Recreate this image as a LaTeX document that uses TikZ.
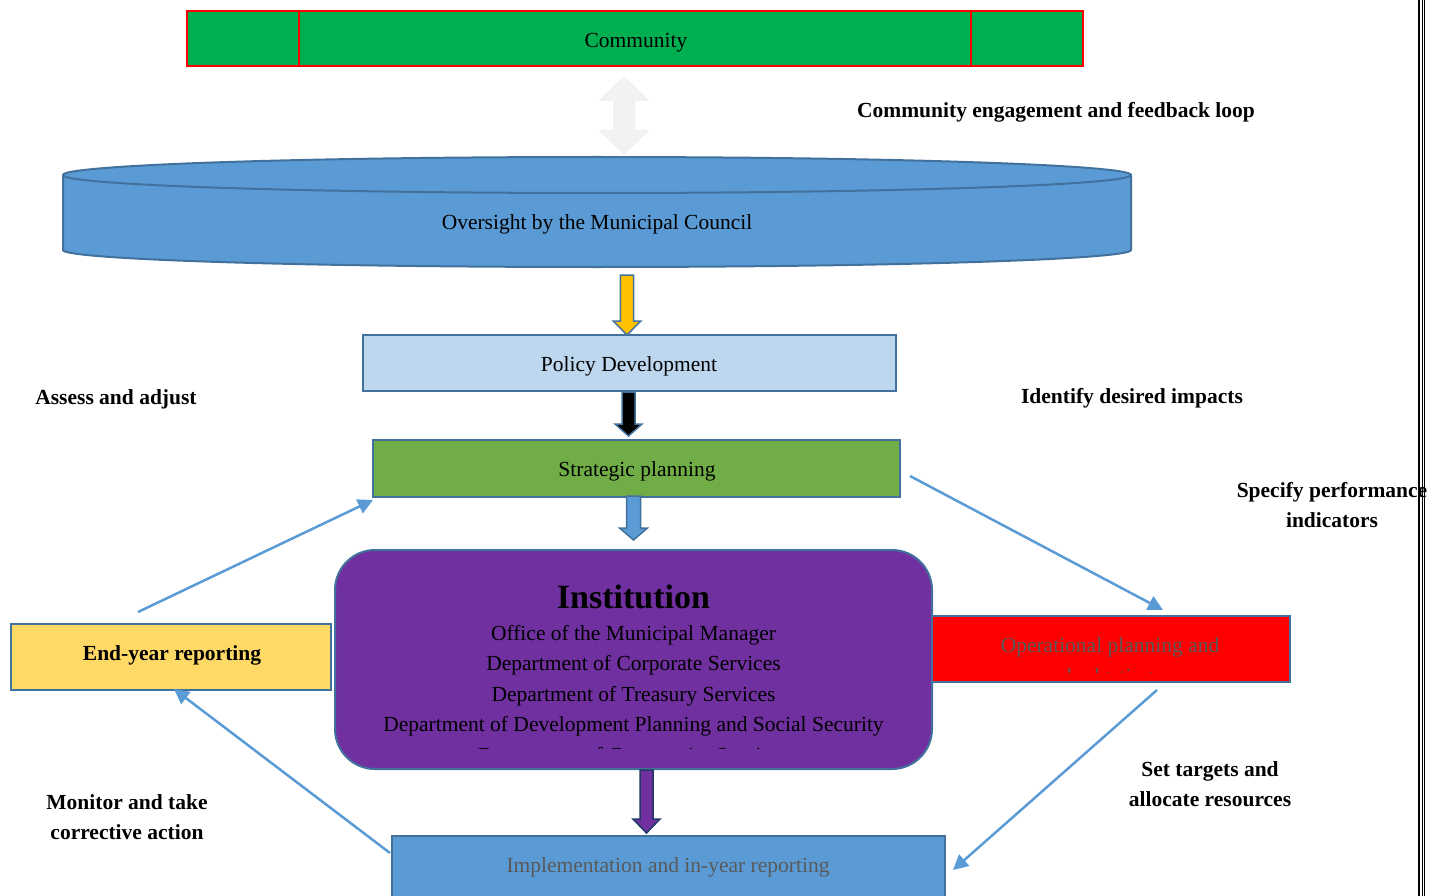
\documentclass[tikz,border=0pt]{standalone}
\usepackage{fontspec}
\setmainfont{Liberation Serif}
\usetikzlibrary{calc,arrows.meta}

\definecolor{commgreen}{HTML}{00B050}
\definecolor{bordblue}{HTML}{41719C}
\definecolor{midblue}{HTML}{5B9BD5}
\definecolor{paleblue}{HTML}{BDD7EE}
\definecolor{leafgreen}{HTML}{70AD47}
\definecolor{instpurple}{HTML}{7030A0}
\definecolor{sunyellow}{HTML}{FFD966}
\definecolor{amber}{HTML}{FFC000}
\definecolor{mist}{HTML}{F2F2F2}
\definecolor{navy}{HTML}{203864}
\definecolor{dimtext}{HTML}{595959}

% vertical block arrow pointing down:
% #1 style, #2 centre x, #3 top y, #4 tip y, #5 shaft half width, #6 head half width, #7 head length
\newcommand{\downblock}[7]{%
  \draw[#1] (#2-#5,#3) -- (#2+#5,#3) -- (#2+#5,#4-#7) -- (#2+#6,#4-#7) -- (#2,#4)
    -- (#2-#6,#4-#7) -- (#2-#5,#4-#7) -- cycle;}

\tikzset{
  box/.style={draw=bordblue, line width=2pt, inner sep=0pt},
  txt/.style={font=\fontsize{21.5}{30}\selectfont, inner sep=0pt},
  lbl/.style={font=\fontsize{21.5}{30}\selectfont\bfseries, align=center, inner sep=0pt},
  flowline/.style={draw=midblue, line width=2.5pt, -{Triangle[length=15pt,width=15pt]}},
  blockarr/.style={line width=1.5pt, line join=miter},
}

\begin{document}
\begin{tikzpicture}[x=1pt,y=-1pt]
\useasboundingbox (0,0) rectangle (1437,896);

% community band with its two dividers
\node[box, draw=red, fill=commgreen, minimum width=896pt, minimum height=55pt] (community) at (635,38.5) {};
\draw[red, line width=2pt] (299,11) -- (299,66) (971,11) -- (971,66);
\node[txt] (commtext) at (636,43) {Community};

% two-way engagement arrow
\fill[mist] (624,76) -- (650,101) -- (635,101) -- (635,130) -- (650,130) -- (624,155)
  -- (598,130) -- (613,130) -- (613,101) -- (598,101) -- cycle;

% council cylinder
\path[fill=midblue, draw=bordblue, line width=2pt]
  (63,175) -- (63,250) arc[start angle=180, end angle=360, x radius=534pt, y radius=17pt]
  -- (1131,175) arc[start angle=0, end angle=180, x radius=534pt, y radius=18pt] -- cycle;
\draw[bordblue, line width=2pt] (63,175) arc[start angle=180, end angle=360, x radius=534pt, y radius=18pt];
\node[txt] (council) at (597,224) {Oversight by the Municipal Council};

% main column of boxes
\node[box, fill=paleblue, minimum width=533pt, minimum height=56pt] (policy) at (629.5,363) {};
\node[txt] (policytext) at (629,366) {Policy Development};
\node[box, fill=leafgreen, minimum width=527pt, minimum height=57pt] (strategic) at (636.5,468.5) {};
\node[txt] (strattext) at (637,471) {Strategic planning};
\node[box, fill=instpurple, rounded corners=40pt, minimum width=597pt, minimum height=219pt] (institution) at (633.5,659.5) {};
\node[box, fill=red, minimum width=358pt, minimum height=66pt] (operational) at (1111,649) {};
\node[box, fill=sunyellow, minimum width=320pt, minimum height=66pt] (endyear) at (171,657) {};
\node[lbl] (endtext) at (172,655) {End-year reporting};
\node[box, fill=midblue, minimum width=553pt, minimum height=70pt] (implementation) at (668.5,871) {};
\node[txt, text=dimtext] (impltext) at (668,867) {Implementation and in-year reporting};

% institution contents
\node[font=\fontsize{34}{40}\selectfont\bfseries, inner sep=0pt] (insttitle) at (633.5,597) {Institution};
\node[txt] (dept1) at (633.5,635) {Office of the Municipal Manager};
\node[txt] (dept2) at (633.5,665) {Department of Corporate Services};
\node[txt] (dept3) at (633.5,696) {Department of Treasury Services};
\node[txt] (dept4) at (633.5,726) {Department of Development Planning and Social Security};
\begin{scope}
  \clip (335,550) rectangle (932,748.5);
  \node[txt, anchor=base] (dept5) at (633.5,762) {Department of Community Services};
\end{scope}

% operational planning text, second line cut by the box
\node[txt, text=dimtext, anchor=base] (optext) at (1110,652) {Operational planning and};
\begin{scope}
  \clip (932,616) rectangle (1290,672);
  \node[txt, text=dimtext, anchor=base] (optext2) at (1110,683) {budgeting};
\end{scope}

% block arrows down the column
\downblock{blockarr, fill=amber, draw=bordblue}{627}{275}{335}{6.7}{13.8}{14}
\downblock{blockarr, fill=black, draw=bordblue}{628.5}{392}{436}{6.5}{13.5}{12}
\downblock{blockarr, fill=midblue, draw=bordblue}{633.5}{496}{540}{7}{14}{12}
\downblock{blockarr, fill=instpurple, draw=navy}{646.5}{770}{833}{6.5}{13.5}{14}

% cycle connectors
\coordinate (a1) at (138,612);  \coordinate (a2) at (373,500);
\coordinate (b1) at (910,476);  \coordinate (b2) at (1163,610);
\coordinate (c1) at (1157,690); \coordinate (c2) at (953,870);
\coordinate (d1) at (390,853);  \coordinate (d2) at (174,689);
\draw[flowline] (a1) -- (a2);
\draw[flowline] (b1) -- (b2);
\draw[flowline] (c1) -- (c2);
\draw[flowline] (d1) -- (d2);

% cycle labels
\node[lbl] (engage) at (1056,112) {Community engagement and feedback loop};
\node[lbl] (assess) at (116,399) {Assess and adjust};
\node[lbl] (impacts) at (1132,398) {Identify desired impacts};
\node[lbl] (indicators) at (1332,505) {Specify performance\\indicators};
\node[lbl] (targets) at (1210,784) {Set targets and\\allocate resources};
\node[lbl] (monitor) at (127,817) {Monitor and take\\corrective action};

% page rule on the right
\draw[line width=2.5pt] (1419,0) -- (1419,896);
\draw[line width=1.2pt] (1422.2,0) -- (1422.2,896);
\draw[line width=1.2pt] (1424.4,0) -- (1424.4,896);
\end{tikzpicture}
\end{document}
